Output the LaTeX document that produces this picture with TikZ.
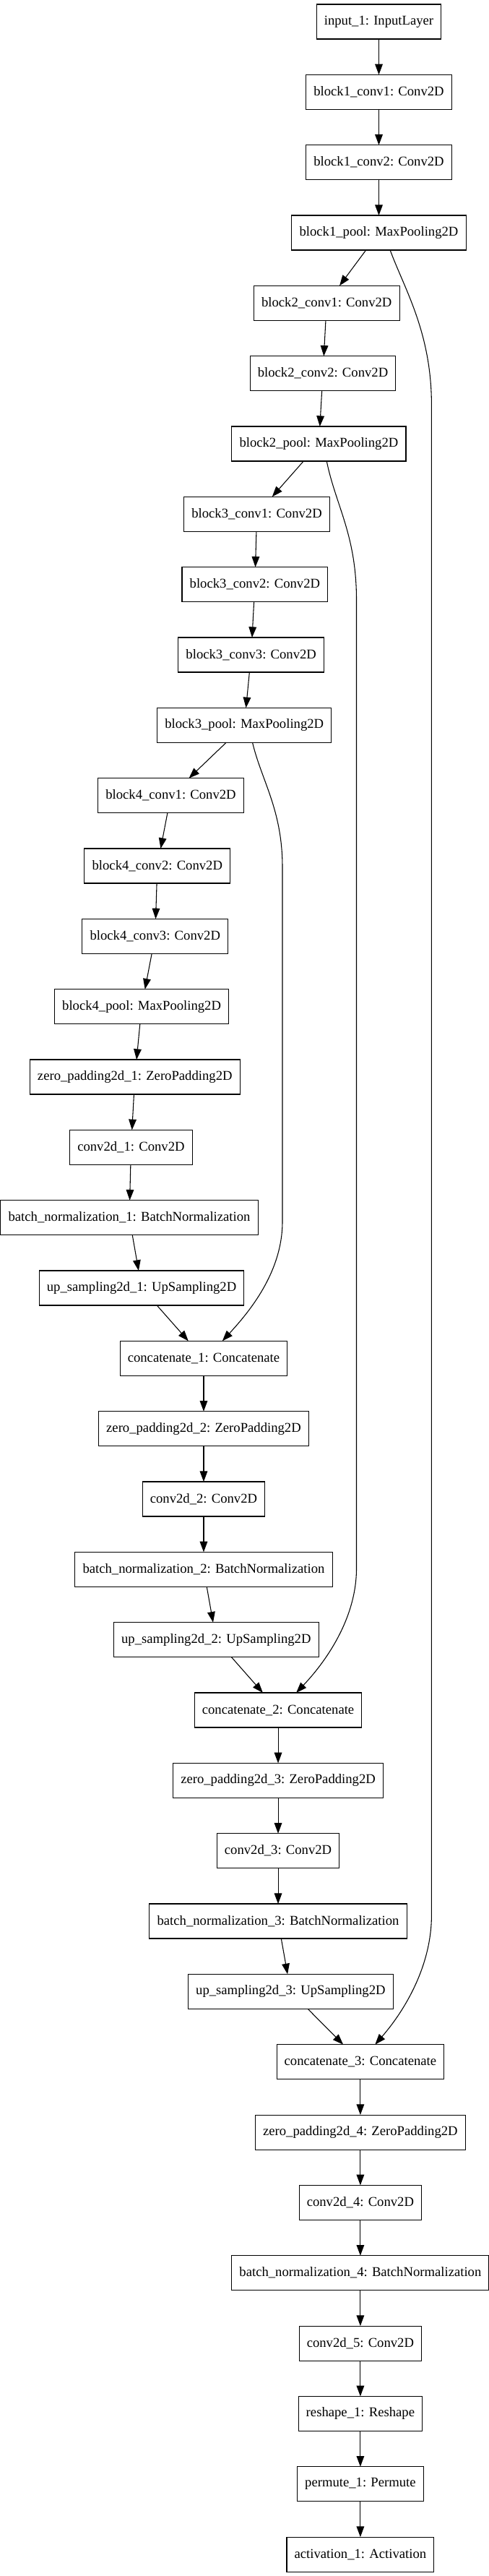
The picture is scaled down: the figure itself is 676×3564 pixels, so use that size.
\documentclass[tikz,border=0pt]{standalone}
\usepackage{fontspec}
\setmainfont{Liberation Serif}
\usepackage{tikz}
\usetikzlibrary{arrows.meta, positioning}
\definecolor{boxline}{HTML}{000000}
\tikzset{
    layerbox/.style={
        rectangle,
        draw=boxline,
        line width=0.8pt,
        inner xsep=8pt,
        minimum height=36pt,
        outer sep=0pt,
        font=\fontsize{14pt}{16pt}\selectfont
    },
    arrow/.style={
        -{Triangle[length=11pt, width=8pt]},
        line width=0.8pt,
        draw=boxline
    }
}

\begin{document}
\begin{tikzpicture}[x=0.75pt, y=-0.75pt, node distance=37pt]
    \useasboundingbox (0,0) rectangle (676,3564);

    % encoder
    \node[layerbox] (in1) at (524.5,30) {input\_1: InputLayer};
    \node[layerbox, below=of in1] (b1c1) {block1\_conv1: Conv2D};
    \node[layerbox, below=of b1c1] (b1c2) {block1\_conv2: Conv2D};
    \node[layerbox, below=of b1c2] (b1pool) {block1\_pool: MaxPooling2D};
    \node[layerbox, below=of b1pool, xshift=-54.2pt] (b2c1) {block2\_conv1: Conv2D};
    \node[layerbox, below=of b2c1, xshift=-3.9pt] (b2c2) {block2\_conv2: Conv2D};
    \node[layerbox, below=of b2c2, xshift=-4.2pt] (b2pool) {block2\_pool: MaxPooling2D};
    \node[layerbox, below=of b2pool, xshift=-64.4pt] (b3c1) {block3\_conv1: Conv2D};
    \node[layerbox, below=of b3c1, xshift=-2pt] (b3c2) {block3\_conv2: Conv2D};
    \node[layerbox, below=of b3c2, xshift=-3.9pt] (b3c3) {block3\_conv3: Conv2D};
    \node[layerbox, below=of b3c3, xshift=-7.1pt] (b3pool) {block3\_pool: MaxPooling2D};
    \node[layerbox, below=of b3pool, xshift=-76.3pt] (b4c1) {block4\_conv1: Conv2D};
    \node[layerbox, below=of b4c1, xshift=-14pt] (b4c2) {block4\_conv2: Conv2D};
    \node[layerbox, below=of b4c2, xshift=-2.3pt] (b4c3) {block4\_conv3: Conv2D};
    \node[layerbox, below=of b4c3, xshift=-14pt] (b4pool) {block4\_pool: MaxPooling2D};

    % decoder
    \node[layerbox, below=of b4pool, xshift=-7pt] (zp1) {zero\_padding2d\_1: ZeroPadding2D};
    \node[layerbox, below=of zp1, xshift=-4pt] (cv1) {conv2d\_1: Conv2D};
    \node[layerbox, below=of cv1, xshift=-1.8pt] (bn1) {batch\_normalization\_1: BatchNormalization};
    \node[layerbox, below=of bn1, xshift=12.8pt] (up1) {up\_sampling2d\_1: UpSampling2D};
    \node[layerbox, below=of up1, xshift=64.4pt] (cat1) {concatenate\_1: Concatenate};
    \node[layerbox, below=of cat1] (zp2) {zero\_padding2d\_2: ZeroPadding2D};
    \node[layerbox, below=of zp2] (cv2) {conv2d\_2: Conv2D};
    \node[layerbox, below=of cv2] (bn2) {batch\_normalization\_2: BatchNormalization};
    \node[layerbox, below=of bn2, xshift=13pt] (up2) {up\_sampling2d\_2: UpSampling2D};
    \node[layerbox, below=of up2, xshift=64.3pt] (cat2) {concatenate\_2: Concatenate};
    \node[layerbox, below=of cat2] (zp3) {zero\_padding2d\_3: ZeroPadding2D};
    \node[layerbox, below=of zp3] (cv3) {conv2d\_3: Conv2D};
    \node[layerbox, below=of cv3] (bn3) {batch\_normalization\_3: BatchNormalization};
    \node[layerbox, below=of bn3, xshift=13pt] (up3) {up\_sampling2d\_3: UpSampling2D};
    \node[layerbox, below=of up3, xshift=72.4pt] (cat3) {concatenate\_3: Concatenate};
    \node[layerbox, below=of cat3] (zp4) {zero\_padding2d\_4: ZeroPadding2D};
    \node[layerbox, below=of zp4] (cv4) {conv2d\_4: Conv2D};
    \node[layerbox, below=of cv4] (bn4) {batch\_normalization\_4: BatchNormalization};
    \node[layerbox, below=of bn4] (cv5) {conv2d\_5: Conv2D};
    \node[layerbox, below=of cv5] (resh) {reshape\_1: Reshape};
    \node[layerbox, below=of resh] (perm) {permute\_1: Permute};
    \node[layerbox, below=of perm] (act) {activation\_1: Activation};

    \draw[arrow] (in1) -- (b1c1);
    \draw[arrow] (b1c1) -- (b1c2);
    \draw[arrow] (b1c2) -- (b1pool);
    \draw[arrow] (b1pool) -- (b2c1);
    \draw[arrow] (b2c1) -- (b2c2);
    \draw[arrow] (b2c2) -- (b2pool);
    \draw[arrow] (b2pool) -- (b3c1);
    \draw[arrow] (b3c1) -- (b3c2);
    \draw[arrow] (b3c2) -- (b3c3);
    \draw[arrow] (b3c3) -- (b3pool);
    \draw[arrow] (b3pool) -- (b4c1);
    \draw[arrow] (b4c1) -- (b4c2);
    \draw[arrow] (b4c2) -- (b4c3);
    \draw[arrow] (b4c3) -- (b4pool);
    \draw[arrow] (b4pool) -- (zp1);
    \draw[arrow] (zp1) -- (cv1);
    \draw[arrow] (cv1) -- (bn1);
    \draw[arrow] (bn1) -- (up1);
    \draw[arrow] (up1) -- (cat1);
    \draw[arrow] (cat1) -- (zp2);
    \draw[arrow] (zp2) -- (cv2);
    \draw[arrow] (cv2) -- (bn2);
    \draw[arrow] (bn2) -- (up2);
    \draw[arrow] (up2) -- (cat2);
    \draw[arrow] (cat2) -- (zp3);
    \draw[arrow] (zp3) -- (cv3);
    \draw[arrow] (cv3) -- (bn3);
    \draw[arrow] (bn3) -- (up3);
    \draw[arrow] (up3) -- (cat3);
    \draw[arrow] (cat3) -- (zp4);
    \draw[arrow] (zp4) -- (cv4);
    \draw[arrow] (cv4) -- (bn4);
    \draw[arrow] (bn4) -- (cv5);
    \draw[arrow] (cv5) -- (resh);
    \draw[arrow] (resh) -- (perm);
    \draw[arrow] (perm) -- (act);

    % skip connections
    \draw[arrow] ([xshift=11.7pt]b1pool.south) .. controls (560,400) and (597.4,460) .. (597.4,560)
        -- (597.4,2650) .. controls (597.4,2720) and (560,2782) .. ([xshift=15.3pt]cat3.north);
    \draw[arrow] ([xshift=8.1pt]b2pool.south) .. controls (465,700) and (493.5,740) .. (493.5,830)
        -- (493.5,2170) .. controls (493.5,2240) and (450,2300) .. ([xshift=18.8pt]cat2.north);
    \draw[arrow] ([xshift=8.5pt]b3pool.south) .. controls (362,1080) and (391,1120) .. (391,1200)
        -- (391,1690) .. controls (391,1760) and (345,1815) .. ([xshift=19.4pt]cat1.north);
\end{tikzpicture}
\end{document}
